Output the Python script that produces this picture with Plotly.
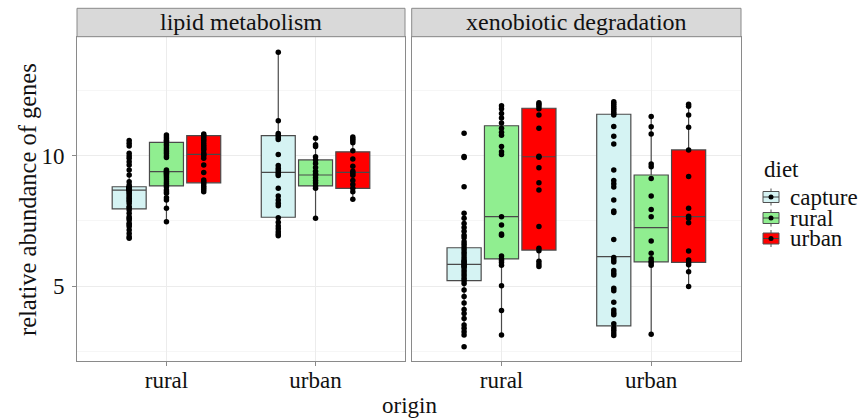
import plotly.graph_objects as go

W, H = 861, 419

facets = ["lipid metabolism", "xenobiotic degradation"]
origins = ["rural", "urban"]
diets = ["capture", "rural", "urban"]
fill_colors = ["#d5f3f3", "#90ee90", "#ff0000"]

y_ticks = [5, 10]
y_minor = [2.5, 7.5, 12.5]

# quartiles: [diet][origin]  (diet order capture, rural, urban; origin order rural, urban)
lipid_q1 = [[7.96, 7.64], [8.84, 8.84], [8.96, 8.75]]
lipid_median = [[8.68, 9.36], [9.39, 9.26], [10.05, 9.36]]
lipid_q3 = [[8.81, 10.77], [10.51, 9.84], [10.77, 10.15]]
xeno_q1 = [[5.21, 3.47], [6.04, 5.93], [6.38, 5.91]]
xeno_median = [[5.83, 6.13], [7.66, 7.24], [9.96, 7.66]]
xeno_q3 = [[6.47, 11.59], [11.15, 9.26], [11.82, 10.22]]

# individual samples
lipid_rural_capture = [10.58, 10.48, 10.37, 10.09, 9.99, 9.90, 9.77, 9.64, 9.45, 9.26, 9.00, 8.88,
                       8.80, 8.79, 8.78, 8.77, 8.76, 8.75, 8.74, 8.73, 8.72, 8.71, 8.70, 8.69,
                       8.66, 8.62, 8.56, 8.49, 8.43, 8.37, 8.30, 8.25, 8.17, 8.04, 8.00, 7.92,
                       7.79, 7.66, 7.60, 7.53, 7.41, 7.35, 7.28, 7.15, 7.02, 6.89, 6.83]
lipid_rural_rural = [10.79, 10.72, 10.65, 10.58, 10.55, 10.45, 10.38, 10.30, 10.22, 10.15, 10.08,
                     10.00, 9.93, 9.45, 9.41, 9.37, 9.33, 9.28, 9.22, 9.15, 9.08, 9.00, 8.93,
                     8.87, 8.80, 8.68, 8.62, 8.56, 8.39, 8.30, 7.98, 7.47]
lipid_rural_urban = [10.83, 10.78, 10.72, 10.65, 10.58, 10.50, 10.42, 10.35, 10.28, 10.22, 10.10,
                     10.05, 10.00, 9.90, 9.64, 9.36, 9.07, 9.00, 8.93, 8.85, 8.78, 8.70, 8.62]
lipid_urban_capture = [13.97, 11.34, 10.85, 10.78, 10.70, 10.62, 10.05, 9.62, 9.52, 9.44, 9.36,
                       9.30, 9.24, 8.75, 8.45, 8.30, 8.18, 8.08, 7.62, 7.45, 7.30, 7.20, 7.08,
                       7.00, 6.93]
lipid_urban_rural = [10.67, 10.42, 10.35, 9.96, 9.84, 9.70, 9.55, 9.40, 9.30, 9.26, 9.15, 9.05,
                     8.95, 8.84, 8.75, 7.60]
lipid_urban_urban = [10.72, 10.65, 10.58, 10.50, 10.19, 9.87, 9.60, 9.40, 9.33, 9.25, 9.05, 8.90,
                     8.75, 8.62, 8.33]
xeno_rural_capture = [10.86, 9.97, 9.93, 8.81, 7.79, 7.60, 7.40, 7.25, 7.10, 6.95, 6.85, 6.70,
                      6.60, 6.50, 6.40, 6.30, 6.20, 6.10, 6.00, 5.95, 5.90, 5.85, 5.80, 5.75,
                      5.70, 5.60, 5.50, 5.40, 5.30, 5.20, 5.10, 4.85, 4.60, 4.35, 4.10, 3.95,
                      3.76, 3.51, 3.38, 3.25, 3.12, 2.67]
xeno_rural_rural = [11.92, 11.80, 11.62, 11.45, 11.25, 11.05, 10.90, 10.78, 10.35, 10.15, 10.05,
                    7.66, 7.34, 7.00, 6.95, 6.15, 6.05, 5.98, 5.90, 5.80, 5.01, 4.06, 3.12]
xeno_rural_urban = [12.03, 11.97, 11.90, 11.80, 11.56, 11.05, 9.98, 9.94, 9.54, 8.96, 8.68, 7.28,
                    6.45, 6.35, 5.95, 5.85, 5.75]
xeno_urban_capture = [12.07, 12.00, 11.93, 11.85, 11.78, 11.70, 11.62, 11.56, 11.12, 10.75, 10.45,
                      9.45, 9.05, 8.92, 8.80, 8.30, 7.88, 7.82, 6.79, 6.10, 6.00, 5.92, 5.60,
                      5.50, 5.42, 4.92, 4.82, 4.38, 4.08, 3.98, 3.90, 3.55, 3.40, 3.30, 3.20, 3.10]
xeno_urban_rural = [11.50, 11.11, 10.83, 9.68, 9.58, 9.13, 8.45, 7.94, 7.66, 6.73, 6.26, 6.05,
                    5.95, 5.88, 5.80, 3.15]
xeno_urban_urban = [11.97, 11.90, 11.56, 11.09, 10.22, 9.20, 7.98, 7.68, 7.60, 7.43, 6.34, 6.00,
                    5.90, 5.82, 5.55, 4.98]

samples = {
    0: [[lipid_rural_capture, lipid_urban_capture],
        [lipid_rural_rural, lipid_urban_rural],
        [lipid_rural_urban, lipid_urban_urban]],
    1: [[xeno_rural_capture, xeno_urban_capture],
        [xeno_rural_rural, xeno_urban_rural],
        [xeno_rural_urban, xeno_urban_urban]],
}
quart = {0: (lipid_q1, lipid_median, lipid_q3), 1: (xeno_q1, xeno_median, xeno_q3)}

# ---- layout geometry (pixels) ----
FONT = "Liberation Serif"
FS = 23
TXT = "#111111"
panel_x = [(77, 405), (411.7, 741)]
panel_top, panel_bot = 36.7, 361
strip_top = 8.3
dodge = [-0.25, 0.0, 0.25]
box_w = 0.228


def px(x):
    return x / W


def py(y):
    return 1 - y / H


def whiskers(pts, q1, q3):
    iqr = q3 - q1
    lo = min(p for p in pts if p >= q1 - 1.5 * iqr)
    hi = max(p for p in pts if p <= q3 + 1.5 * iqr)
    return lo, hi


fig = go.Figure()
for f in range(2):
    xa = "x" if f == 0 else "x2"
    ya = "y" if f == 0 else "y2"
    q1s, meds, q3s = quart[f]
    for d in range(3):
        xs, lo_l, hi_l = [], [], []
        for o in range(2):
            xs.append(o + 1 + dodge[d])
            lo, hi = whiskers(samples[f][d][o], q1s[d][o], q3s[d][o])
            lo_l.append(lo)
            hi_l.append(hi)
        fig.add_trace(go.Box(
            x=xs, q1=q1s[d], median=meds[d], q3=q3s[d],
            lowerfence=lo_l, upperfence=hi_l,
            width=box_w, whiskerwidth=0, boxpoints=False,
            fillcolor=fill_colors[d], line=dict(color="#4a4a4a", width=1.2),
            name=diets[d], showlegend=False, xaxis=xa, yaxis=ya))
    for d in range(3):
        for o in range(2):
            pts = samples[f][d][o]
            fig.add_trace(go.Scatter(
                x=[o + 1 + dodge[d]] * len(pts), y=pts, mode="markers",
                marker=dict(color="black", size=5.5), showlegend=False,
                hoverinfo="y", xaxis=xa, yaxis=ya))

axis_common = dict(
    showline=True, mirror=True, linecolor="#8a8a8a", linewidth=1,
    zeroline=False, gridcolor="#ececec", gridwidth=1,
    ticks="outside", ticklen=4, tickcolor="#8a8a8a",
    tickfont=dict(family=FONT, size=FS, color=TXT),
)
for i, key in enumerate(["xaxis", "xaxis2"]):
    fig.layout[key] = dict(
        axis_common, domain=[px(panel_x[i][0]), px(panel_x[i][1])],
        range=[0.4, 2.6], tickvals=[1, 2], ticktext=origins,
        ticklabelstandoff=-6,
        anchor="y" if i == 0 else "y2")
ydom = [py(panel_bot), py(panel_top)]
fig.layout["yaxis"] = dict(
    axis_common, domain=ydom, range=[2.125, 14.565], tickvals=y_ticks,
    ticktext=[str(v) for v in y_ticks], anchor="x", ticklabelstandoff=3,
    minor=dict(tickvals=y_minor, showgrid=True, gridcolor="#f6f6f6", ticks=""))
fig.layout["yaxis2"] = dict(
    axis_common, domain=ydom, range=[2.125, 14.565], tickvals=y_ticks,
    showticklabels=False, ticks="", anchor="x2", matches="y",
    minor=dict(tickvals=y_minor, showgrid=True, gridcolor="#f6f6f6", ticks=""))

shapes = []
annotations = []
# facet strips
for i, name in enumerate(facets):
    x0, x1 = panel_x[i]
    shapes.append(dict(type="rect", xref="paper", yref="paper",
                       x0=px(x0), x1=px(x1), y0=py(panel_top), y1=py(strip_top),
                       fillcolor="#d9d9d9", line=dict(color="#8a8a8a", width=1)))
    annotations.append(dict(text=name, xref="paper", yref="paper",
                            x=px((x0 + x1) / 2), y=py((strip_top + panel_top) / 2),
                            xanchor="center", yanchor="middle", showarrow=False,
                            font=dict(family=FONT, size=24, color=TXT)))

# axis titles
annotations.append(dict(text="origin", xref="paper", yref="paper",
                        x=px((panel_x[0][0] + panel_x[1][1]) / 2), y=py(405),
                        xanchor="center", yanchor="middle", showarrow=False,
                        font=dict(family=FONT, size=FS, color=TXT)))
annotations.append(dict(text="relative abundance of genes", xref="paper", yref="paper",
                        x=px(28), y=py(200), textangle=-90,
                        xanchor="center", yanchor="middle", showarrow=False,
                        font=dict(family=FONT, size=24.5, color=TXT)))

# legend (drawn by hand to match the ggplot key layout)
leg_x0, leg_x1 = 763, 779
annotations.append(dict(text="diet", xref="paper", yref="paper", x=px(762), y=py(169),
                        xanchor="left", yanchor="middle", showarrow=False,
                        font=dict(family=FONT, size=FS, color=TXT)))
legend_rows = [197, 218, 238.5]
for d, cy in enumerate(legend_rows):
    xm = (leg_x0 + leg_x1) / 2
    shapes.append(dict(type="line", xref="paper", yref="paper", x0=px(xm), x1=px(xm),
                       y0=py(cy - 8.5), y1=py(cy + 8.5), line=dict(color="#505050", width=1)))
    shapes.append(dict(type="rect", xref="paper", yref="paper",
                       x0=px(leg_x0), x1=px(leg_x1), y0=py(cy + 5.5), y1=py(cy - 5.5),
                       fillcolor=fill_colors[d], line=dict(color="#505050", width=1)))
    shapes.append(dict(type="line", xref="paper", yref="paper", x0=px(leg_x0), x1=px(leg_x1),
                       y0=py(cy), y1=py(cy), line=dict(color="#404040", width=1)))
    shapes.append(dict(type="circle", xref="paper", yref="paper",
                       x0=px(xm - 2.5), x1=px(xm + 2.5), y0=py(cy + 2.5), y1=py(cy - 2.5),
                       fillcolor="black", line=dict(color="black", width=0)))
    annotations.append(dict(text=diets[d], xref="paper", yref="paper", x=px(788), y=py(cy),
                            xanchor="left", yanchor="middle", showarrow=False,
                            font=dict(family=FONT, size=FS, color=TXT)))

fig.update_layout(
    width=W, height=H, margin=dict(l=0, r=0, t=0, b=0),
    paper_bgcolor="white", plot_bgcolor="white",
    shapes=shapes, annotations=annotations, showlegend=False,
    font=dict(family=FONT, size=FS, color=TXT),
)

fig.write_html("out.html", config={"displayModeBar": False},
               post_script="document.body.style.margin='0px';")
